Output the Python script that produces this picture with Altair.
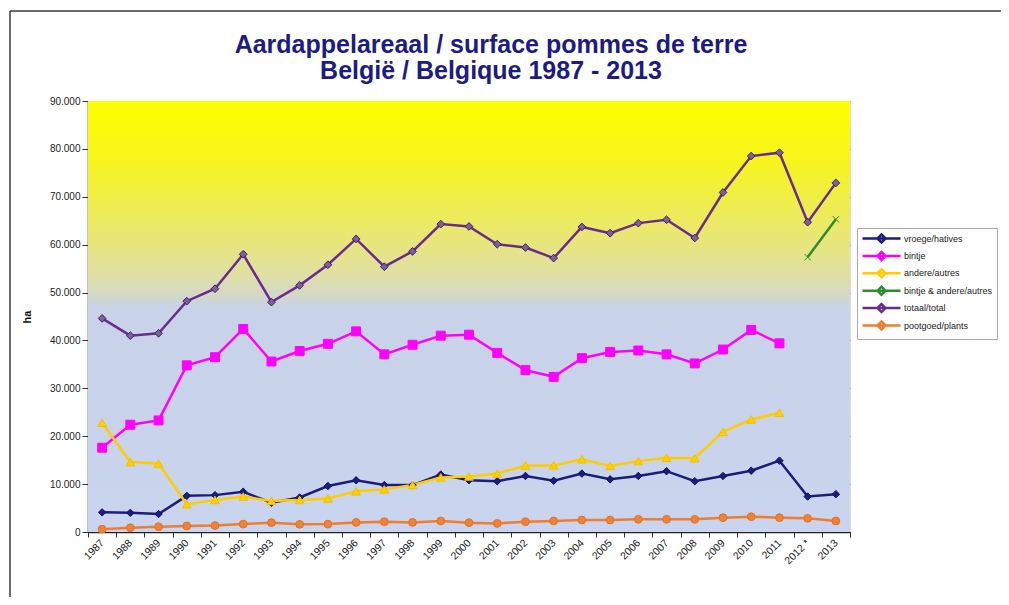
import altair as alt
import pandas as pd

years = ["1987", "1988", "1989", "1990", "1991", "1992", "1993", "1994", "1995",
         "1996", "1997", "1998", "1999", "2000", "2001", "2002", "2003", "2004",
         "2005", "2006", "2007", "2008", "2009", "2010", "2011", "2012 *", "2013"]

series_names = ["vroege/hatives", "bintje", "andere/autres",
                "bintje & andere/autres", "totaal/total", "pootgoed/plants"]

vroege = [4100, 4000, 3750, 7550, 7700, 8400, 6100, 7200, 9600, 10800, 9800, 9800,
          12000, 10800, 10600, 11700, 10700, 12200, 11000, 11700, 12700, 10600,
          11700, 12800, 14900, 7400, 7900]
bintje = [17600, 22400, 23300, 34800, 36500, 42400, 35600, 37800, 39300, 41900,
          37100, 39100, 41000, 41200, 37400, 33800, 32400, 36300, 37600, 37900,
          37100, 35200, 38100, 42200, 39400, None, None]
andere = [22800, 14600, 14300, 5800, 6700, 7400, 6500, 6700, 7000, 8500, 8900,
          9800, 11400, 11600, 12200, 13900, 13900, 15200, 13800, 14800, 15500,
          15400, 20900, 23500, 24900, None, None]
bintje_andere = [None] * 25 + [57400, 65300]
totaal = [44600, 41000, 41500, 48200, 50800, 58000, 48000, 51500, 55800, 61200,
          55400, 58600, 64300, 63800, 60100, 59400, 57200, 63700, 62400, 64500,
          65200, 61400, 70900, 78500, 79200, 64700, 72900]
pootgoed = [600, 900, 1100, 1250, 1350, 1650, 1950, 1600, 1650, 2000, 2150, 2000,
            2300, 1950, 1800, 2150, 2300, 2500, 2500, 2650, 2650, 2650, 3000, 3200,
            3000, 2850, 2300]

marker_keys = ["m%d" % i for i in range(len(series_names))]

all_series = [vroege, bintje, andere, bintje_andere, totaal, pootgoed]
rows = []
for name, key, vals in zip(series_names, marker_keys, all_series):
    for y, v in zip(years, vals):
        if v is not None:
            rows.append({"year": y, "series": name, "marker": key, "value": v})
df = pd.DataFrame(rows)

W, H = 762, 431

line_colors = ["#1c1c7c", "#ff00ff", "#ffcc00", "#2e8b2e", "#6a2c8c", "#ee7d30"]
fill_colors = ["#1c1c80", "#ff00ff", "#ffd000", "#2e8b2e", "#7e5e9e", "#f08236"]
stroke_colors = ["#101060", "#ff00ff", "#f0c000", "#2e8b2e", "#3a2060", "#e07028"]
shapes = ["diamond", "square", "triangle-up", "M-1,-1L1,1M-1,1L1,-1", "diamond", "circle"]
sizes = [55, 80, 75, 40, 60, 60]

x_enc = alt.X(
    "year:N", sort=years,
    scale=alt.Scale(type="band", domain=years, paddingInner=0, paddingOuter=0),
    bandPosition=0.5,
    axis=alt.Axis(title=None, labelAngle=-45, labelAlign="right", labelBaseline="middle",
                  labelPadding=4, tickBand="extent", tickSize=5, tickColor="#333",
                  domainColor="#222", domainWidth=1.5, grid=False,
                  labelFont="Liberation Sans", labelFontSize=10.5, labelColor="#222"),
)
y_enc = alt.Y(
    "value:Q",
    scale=alt.Scale(domain=[0, 90000], nice=False, zero=True),
    axis=alt.Axis(title="ha", values=list(range(0, 90001, 10000)),
                  labelExpr="replace(format(datum.value, ','), ',', '.')",
                  labelFont="Liberation Sans", labelFontSize=10, labelColor="#222",
                  titleFont="Liberation Sans", titleFontSize=11, titleFontWeight="bold",
                  titleColor="#111", titlePadding=17,
                  domainColor="#111", domainWidth=1.5, tickColor="#333", tickSize=6,
                  grid=True, gridColor="#5a5a5a", gridWidth=0.8),
)

one = pd.DataFrame({"a": [0]})

background = alt.Chart(one).mark_rect(
    color=alt.LinearGradient(
        gradient="linear", x1=0, x2=0, y1=0, y2=1,
        stops=[
            alt.GradientStop(color="#ffff00", offset=0),
            alt.GradientStop(color="#f6f41c", offset=0.14),
            alt.GradientStop(color="#ecea62", offset=0.28),
            alt.GradientStop(color="#e0e0a2", offset=0.40),
            alt.GradientStop(color="#d4d8c6", offset=0.45),
            alt.GradientStop(color="#c8d2e8", offset=0.48),
            alt.GradientStop(color="#c9d4ee", offset=1),
        ],
    )
).encode(x=alt.value(0), x2=alt.value(W), y=alt.value(0), y2=alt.value(H))

frame_top = alt.Chart(one).mark_rule(stroke="#3a3a3a", strokeWidth=1.5).encode(
    x=alt.value(-78), x2=alt.value(W + 200), y=alt.value(-90)
)
frame_left = alt.Chart(one).mark_rule(stroke="#3a3a3a", strokeWidth=1.5).encode(
    x=alt.value(-78), y=alt.value(-90), y2=alt.value(H + 150)
)

lines = alt.Chart(df).mark_line(strokeWidth=2.5).encode(
    x=x_enc, y=y_enc,
    color=alt.Color("series:N", scale=alt.Scale(domain=series_names, range=line_colors),
                    legend=alt.Legend(
                        title=None, orient="none", legendX=769, legendY=127,
                        symbolType="M-1,0H6.6M2.8,-0.8L3.6,0L2.8,0.8L2,0Z",
                        symbolSize=100, symbolStrokeWidth=2.5, labelOffset=30,
                        labelFont="Liberation Sans", labelFontSize=9, labelColor="#222",
                        rowPadding=-1.6, padding=4, strokeColor="#aaaaaa", fillColor="white",
                        cornerRadius=0)),
    detail="series:N",
)

points = alt.Chart(df).mark_point(opacity=1, strokeWidth=1).encode(
    x=x_enc, y=y_enc,
    shape=alt.Shape("marker:N", scale=alt.Scale(domain=marker_keys, range=shapes), legend=None),
    fill=alt.Fill("marker:N", scale=alt.Scale(domain=marker_keys, range=fill_colors), legend=None),
    stroke=alt.Stroke("marker:N", scale=alt.Scale(domain=marker_keys, range=stroke_colors), legend=None),
    size=alt.Size("marker:N", scale=alt.Scale(type="ordinal", domain=marker_keys, range=sizes), legend=None),
)

chart = alt.layer(background, frame_top, frame_left, lines, points).properties(
    width=W, height=H,
    title=alt.Title(
        ["Aardappelareaal / surface pommes de terre", "België / Belgique 1987 - 2013"],
        font="Liberation Sans", fontSize=25, fontWeight="bold", color="#1c1c84",
        anchor="middle", frame="group", dx=22, offset=-74, lineHeight=26,
    ),
    autosize=alt.AutoSizeParams(type="none"),
    padding={"left": 80, "top": 93, "right": 151, "bottom": 65},
).configure_view(stroke=None).configure(background="white")

chart.save("out.html", embed_options={"renderer": "svg", "actions": False})
